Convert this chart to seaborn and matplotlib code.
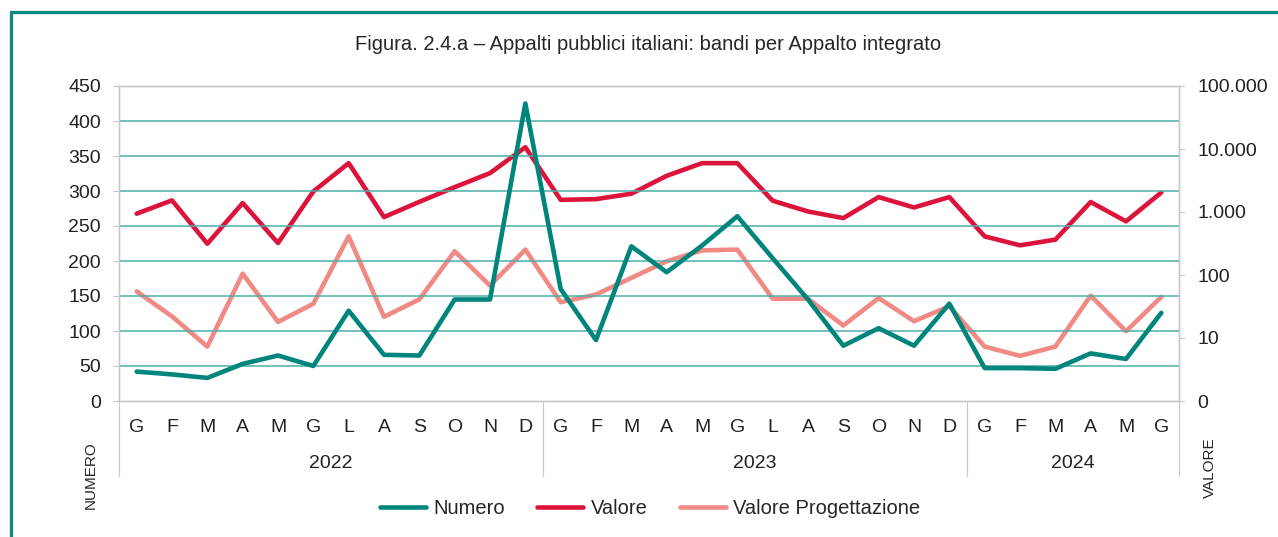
import numpy as np
import pandas as pd
import seaborn as sns
import matplotlib.pyplot as plt
import matplotlib.transforms as mtransforms
from matplotlib.patches import Rectangle
from matplotlib.ticker import FixedLocator, NullFormatter

# data
months = ['G', 'F', 'M', 'A', 'M', 'G', 'L', 'A', 'S', 'O', 'N', 'D'] * 2 + ['G', 'F', 'M', 'A', 'M', 'G']
years = ['2022', '2023', '2024']
year_len = [12, 12, 6]

numero = [42, 38, 33, 53, 65, 50, 129, 66, 65, 145, 145, 425,
          160, 87, 221, 184, 222, 264, 204, 145, 79, 104, 79, 139,
          47, 47, 46, 68, 60, 126]
valore = [940, 1530, 314, 1385, 322, 2120, 5960, 830, 1450, 2480, 4140, 10670,
          1560, 1600, 1950, 3750, 5960, 5960, 1510, 1020, 800, 1725, 1180, 1725,
          410, 296, 364, 1440, 710, 2040]
valore_prog = [55, 22, 7.3, 105, 18, 35, 411, 21.7, 41, 238, 68, 253,
               37, 49, 90, 165, 246, 253, 42, 42, 15.8, 43, 18.5, 32,
               7.3, 5.2, 7.3, 47, 12.8, 45]

df = pd.DataFrame({'pos': np.arange(len(months)), 'Numero': numero,
                   'Valore': valore, 'Valore Progettazione': valore_prog})

teal = '#00857C'
red = '#DC143C'
pink = '#F08A84'
grid_c = '#4DAFA8'
grey = '#C8C8C8'
txt = '#222222'

sns.set_style('white')
plt.rcParams['font.family'] = ['Liberation Sans', 'DejaVu Sans']

W, H = 1278, 537
fig = plt.figure(figsize=(W / 100, H / 100), dpi=100)
x0, x1, y0, y1 = 119, 1179, 401, 86
ax = fig.add_axes([x0 / W, 1 - y0 / H, (x1 - x0) / W, (y0 - y1) / H])
ax2 = ax.twinx()

sns.lineplot(data=df, x='pos', y='Numero', ax=ax, color=teal, linewidth=3.3, legend=False)
sns.lineplot(data=df, x='pos', y='Valore', ax=ax2, color=red, linewidth=3.3, legend=False)
sns.lineplot(data=df, x='pos', y='Valore Progettazione', ax=ax2, color=pink, linewidth=3.3, legend=False)
ax.set_zorder(ax2.get_zorder() + 1)
ax.patch.set_visible(False)

ax.set_xlim(-0.5, len(months) - 0.5)
ax.set_ylim(0, 450)
ax.set_yticks(range(0, 451, 50))
ax.set_yticklabels([str(v) for v in range(0, 451, 50)], fontsize=14, color=txt)
for v in range(50, 401, 50):
    ax.axhline(v, color=grid_c, linewidth=1.1, zorder=0)

ax2.set_yscale('log')
ax2.set_ylim(1, 100000)
ax2.yaxis.set_major_locator(FixedLocator([1, 10, 100, 1000, 10000, 100000]))
ax2.yaxis.set_minor_formatter(NullFormatter())
ax2.yaxis.set_minor_locator(FixedLocator([]))
ax2.set_yticklabels(['0', '10', '100', '1.000', '10.000', '100.000'], fontsize=14, color=txt)

ax.set_xticks(range(len(months)))
ax.set_xticklabels(months, fontsize=14, color=txt)
ax.set_xticks(np.arange(-0.5, len(months), 1), minor=True)
ax.tick_params(axis='x', which='major', length=0, pad=13)
ax.tick_params(axis='x', which='minor', length=28, width=0.8, color=grey)
ax.tick_params(axis='y', length=4, width=0.8, color=grey, pad=9)
ax2.tick_params(axis='y', length=4, width=0.8, color=grey, pad=9)
ax.set_xlabel('')
ax.set_ylabel('')
ax2.set_ylabel('')

for a in (ax, ax2):
    for s in a.spines.values():
        s.set_color(grey)
        s.set_linewidth(1.0)

# year grouping under the month labels
trans = mtransforms.blended_transform_factory(ax.transData, ax.transAxes)
start = -0.5
bounds = [start]
for yr, n in zip(years, year_len):
    ax.text(start + n / 2, -0.2, yr, transform=trans, ha='center', va='center',
            fontsize=14, color=txt)
    start += n
    bounds.append(start)
for b in bounds:
    ax.plot([b, b], [0, -0.238], transform=trans, color=grey, linewidth=0.8, clip_on=False)

fig.text(91 / W, 1 - 475 / H, 'NUMERO', rotation=90, ha='center', va='center', fontsize=11)
fig.text(1210 / W, 1 - 468 / H, 'VALORE', rotation=90, ha='center', va='center', fontsize=11)

fig.text(648 / W, 1 - 44 / H,
         'Figura. 2.4.a \u2013 Appalti pubblici italiani: bandi per Appalto integrato',
         ha='center', va='center', fontsize=14.5)

handles = [plt.Line2D([], [], color=c, linewidth=3.3) for c in (teal, red, pink)]
fig.legend(handles, ['Numero', 'Valore', 'Valore Progettazione'], loc='center',
           bbox_to_anchor=(650 / W, 1 - 509 / H), ncol=3, frameon=False, fontsize=14.5,
           handlelength=2.3, handletextpad=0.35, columnspacing=1.6)

# teal frame (left and top edges visible)
fig.patches.append(Rectangle((10.5 / W, -0.05), 1.2, 1.05 - 12 / H,
                             transform=fig.transFigure, fill=False,
                             edgecolor='#0E8A84', linewidth=2.4))

fig.savefig('out.png', dpi=100)
